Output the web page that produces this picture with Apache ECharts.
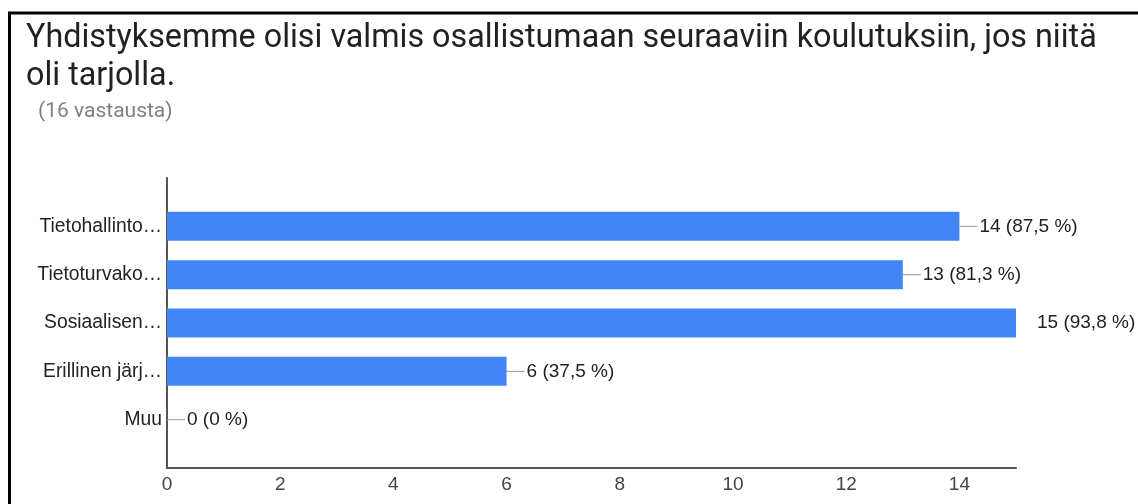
<!DOCTYPE html>
<html>
<head>
<meta charset="utf-8">
<script src="https://cdn.jsdelivr.net/npm/echarts@6/dist/echarts.min.js"></script>
<style>
	html, body { margin: 0; padding: 0; background: #fff; }
	#chart { width: 1138px; height: 504px; }
</style>
</head>
<body>
<div id="chart"></div>
<script>
	// data
	var categories = ['Tietohallinto…', 'Tietoturvako…', 'Sosiaalisen…', 'Erillinen järj…', 'Muu'];
	var counts = [14, 13, 15, 6, 0];
	var percents = ['87,5', '81,3', '93,8', '37,5', '0'];
	var xTicks = [0, 2, 4, 6, 8, 10, 12, 14];
	var totalAnswers = 16;

	var xMax = 15;

	// pad one empty slot on each end so the bars sit inside the longer axis line
	var yData = [''].concat(categories, ['']);
	var barData = ['-'].concat(counts, ['-']);

	var chart = echarts.init(document.getElementById('chart'));

	var labelFont = 'Liberation Sans';

	var option = {
		animation: false,
		title: [{
			text: 'Yhdistyksemme olisi valmis osallistumaan seuraaviin koulutuksiin, jos niitä\noli tarjolla.',
			left: 26,
			top: 20,
			padding: 0,
			textStyle: {
				fontFamily: 'Roboto',
				fontSize: 32.3,
				fontWeight: 'normal',
				lineHeight: 38,
				color: '#212121'
			}
		}, {
			text: '(' + totalAnswers + ' vastausta)',
			left: 38,
			top: 101,
			padding: 0,
			textStyle: {
				fontFamily: 'Roboto',
				fontSize: 21,
				fontWeight: 'normal',
				color: '#808080'
			}
		}],
		graphic: [{
			type: 'line',
			shape: { x1: 8, y1: 13, x2: 1138, y2: 13 },
			style: { stroke: '#000', lineWidth: 3 }
		}, {
			type: 'line',
			shape: { x1: 9.5, y1: 12, x2: 9.5, y2: 504 },
			style: { stroke: '#000', lineWidth: 3 }
		}],
		grid: {
			left: 167,
			right: 1138 - 1016,
			top: 178,
			bottom: 36,
			containLabel: false
		},
		xAxis: {
			type: 'value',
			min: 0,
			max: xMax,
			interval: xTicks[1] - xTicks[0],
			splitLine: { show: false },
			axisTick: { show: false },
			axisLine: { show: true, lineStyle: { color: '#555', width: 2 } },
			axisLabel: {
				showMaxLabel: false,
				margin: 7,
				fontFamily: labelFont,
				fontSize: 19,
				color: '#444',
				formatter: function (v) {
					return xTicks.indexOf(v) >= 0 ? String(v) : '';
				}
			}
		},
		yAxis: {
			type: 'category',
			inverse: true,
			boundaryGap: false,
			data: yData,
			axisTick: { show: false },
			axisLine: { show: true, lineStyle: { color: '#555', width: 2 } },
			axisLabel: {
				margin: 5,
				fontFamily: labelFont,
				fontSize: 19.3,
				color: '#222'
			}
		},
		series: [{
			type: 'bar',
			data: barData,
			barWidth: 29,
			itemStyle: { color: '#4285f4' },
			label: {
				show: true,
				position: 'right',
				distance: 0,
				fontFamily: labelFont,
				fontSize: 19,
				color: '#222',
				formatter: function (p) {
					var i = p.dataIndex - 1;
					var txt = counts[i] + ' (' + percents[i] + ' %)';
					if (counts[i] === xMax) {
						return '{gap|}{t|' + txt + '}';
					}
					return '{ln|}{t|' + txt + '}';
				},
				rich: {
					ln: { width: 18, height: 1, backgroundColor: '#999', verticalAlign: 'middle' },
					gap: { width: 19, height: 1 },
					t: {
						fontFamily: labelFont,
						fontSize: 19,
						color: '#222',
						padding: [0, 0, 0, 2],
						verticalAlign: 'middle'
					}
				}
			}
		}]
	};

	chart.setOption(option);
</script>
</body>
</html>
